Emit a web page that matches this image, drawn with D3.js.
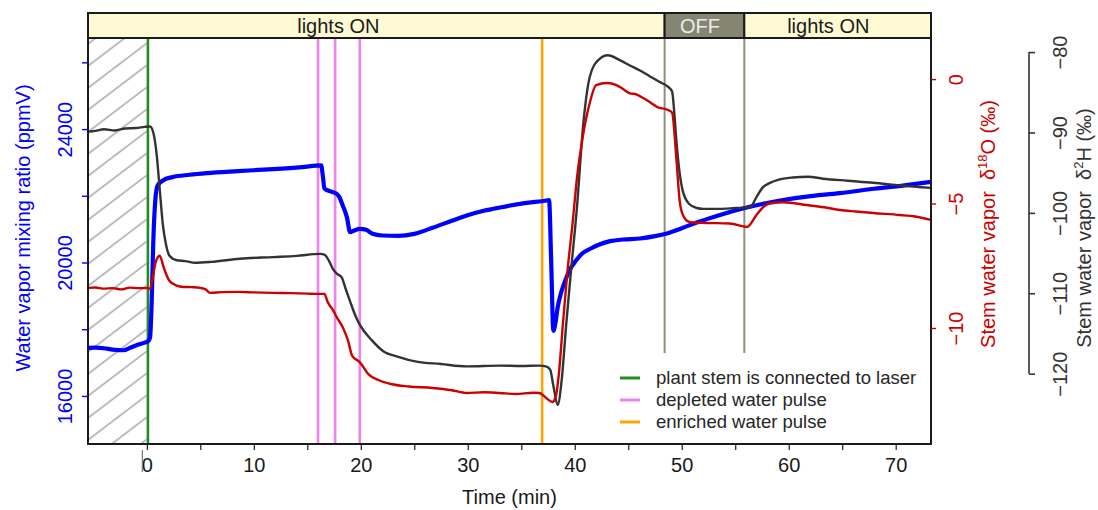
<!DOCTYPE html>
<html>
<head>
<meta charset="utf-8">
<script src="https://cdn.jsdelivr.net/npm/d3@7"></script>
<style>
  body { margin: 0; background: #fff; }
  text { font-family: "Liberation Sans", Arial, sans-serif; }
</style>
</head>
<body>
<svg id="chart" width="1098" height="510"></svg>
<script>
// ---- time axis ----
const timeDomain = [-5.5, 73.3];
const timeTicks = [0, 5, 10, 15, 20, 25, 30, 35, 40, 45, 50, 55, 60, 65, 70];
const timeLabels = [0, 10, 20, 30, 40, 50, 60, 70];

// ---- water vapor mixing ratio (ppmV) ----
const vaporTime = [-5.5,-4.8,-4.0,-3.2,-2.2,-1.5,-0.8,-0.2,0.15,0.3,0.45,0.6,0.8,1.0,1.5,2.4,4.0,5.6,8.5,11.8,14.5,16.3,16.45,16.6,16.9,17.7,18.0,18.3,18.7,19.0,19.4,19.9,20.5,21.1,22.0,23.5,25.0,26.7,28.5,29.9,31.5,33.0,35.3,37.4,37.6,37.8,38.0,38.2,38.4,38.7,39.1,39.5,40.1,40.7,41.5,42.3,43.3,44.5,46.1,47.5,48.6,50.0,51.4,53.5,55.7,58.2,61.5,64.8,68.0,71.0,73.3];
const vaporPpmv = [17440,17450,17430,17390,17370,17450,17540,17600,17650,17750,18800,20600,21900,22300,22460,22560,22630,22680,22740,22800,22860,22910,22600,22220,22160,22070,21960,21720,21360,20910,20960,21010,20980,20860,20810,20800,20860,21040,21250,21410,21550,21650,21780,21860,21870,20000,17950,18200,18650,19070,19450,19760,20050,20270,20420,20540,20640,20690,20720,20790,20870,21030,21200,21420,21620,21800,21970,22080,22210,22320,22420];
const vaporTicks = [16000, 18000, 20000, 22000, 24000, 26000];
const vaporLabels = [16000, 20000, 24000];

// ---- stem water vapor d18O (permil) ----
const oxyTime = [-5.5,-4.8,-4.0,-3.2,-2.4,-1.6,-0.8,0.0,0.3,0.55,0.8,1.2,1.6,2.1,2.8,3.4,4.2,5.0,5.5,5.9,7.0,8.7,10.0,11.8,13.5,15.0,16.2,16.6,16.9,17.4,17.8,18.3,18.8,19.2,19.9,20.7,21.7,22.8,24.5,26.7,28.5,29.9,31.5,33.0,34.5,36.1,36.7,37.3,37.9,38.2,38.5,38.9,39.3,39.8,40.2,40.7,41.4,42.0,43.0,43.9,44.5,45.1,45.8,46.4,47.1,47.7,48.7,49.1,49.5,49.8,50.1,50.7,51.0,52.3,54.5,56.1,57.0,57.6,58.2,59.5,61.7,63.3,64.8,66.3,67.9,70.4,71.8,73.3];
const oxyDelta = [-8.39,-8.37,-8.42,-8.4,-8.45,-8.38,-8.4,-8.4,-8.42,-8.0,-7.4,-7.1,-7.6,-8.1,-8.3,-8.35,-8.36,-8.39,-8.45,-8.59,-8.56,-8.55,-8.57,-8.59,-8.6,-8.62,-8.63,-8.63,-8.96,-9.28,-9.6,-9.96,-10.5,-11.12,-11.37,-11.85,-12.1,-12.25,-12.35,-12.41,-12.5,-12.61,-12.58,-12.61,-12.65,-12.6,-12.61,-12.8,-12.97,-12.8,-11.9,-9.8,-7.8,-5.78,-4.0,-2.45,-0.96,-0.24,-0.16,-0.24,-0.4,-0.56,-0.62,-0.76,-0.95,-1.12,-1.24,-1.35,-3.2,-4.86,-5.45,-5.74,-5.76,-5.78,-5.8,-5.94,-5.45,-5.15,-5.0,-4.95,-5.06,-5.15,-5.26,-5.32,-5.38,-5.46,-5.52,-5.66];
const oxyTicks = [0, -5, -10];

// ---- stem water vapor d2H (permil) ----
const hydTime = [-5.5,-4.8,-4.0,-3.0,-2.0,-1.0,-0.2,0.3,0.6,0.9,1.2,1.5,1.8,2.1,2.8,3.6,4.5,6.0,8.7,11.8,14.0,16.2,16.6,17.0,17.4,17.8,18.2,18.6,19.0,19.5,19.9,21.0,22.1,23.5,25.2,27.5,29.9,33.0,35.0,36.7,37.3,37.7,38.0,38.4,38.8,39.2,39.7,40.2,40.8,41.4,42.2,43.1,44.2,45.2,46.1,47.0,47.9,48.7,49.1,49.3,49.5,49.8,50.1,50.7,51.4,52.0,53.5,55.0,56.4,57.0,57.6,58.2,59.0,60.4,61.8,63.2,65.5,67.9,70.5,73.3];
const hydDelta = [-89.9,-89.8,-89.6,-89.75,-89.5,-89.45,-89.3,-89.25,-90.0,-92.5,-97.0,-101.5,-104.0,-105.3,-105.9,-106.0,-106.2,-106.1,-105.7,-105.5,-105.35,-105.1,-105.2,-105.9,-107.0,-107.6,-108.0,-109.5,-111.0,-112.8,-113.9,-115.8,-117.2,-117.9,-118.5,-118.8,-119.1,-119.0,-119.05,-119.0,-119.1,-119.5,-121.5,-123.9,-120.5,-113.9,-106.5,-99.4,-88.9,-83.1,-81.0,-80.4,-81.0,-81.7,-82.3,-83.0,-83.7,-84.3,-84.9,-87.5,-91.0,-95.0,-97.3,-98.9,-99.4,-99.5,-99.5,-99.4,-99.3,-98.0,-96.8,-96.3,-95.9,-95.6,-95.5,-95.75,-96.0,-96.25,-96.6,-96.9];
const hydTicks = [-80, -90, -100, -110, -120];

// ---- light phases ----
const phaseLabel = ["lights ON", "OFF", "lights ON"];
const phaseStart = [-5.5, 48.4, 55.85];
const phaseEnd = [48.4, 55.85, 73.3];
const phaseLabelTime = [17.9, 51.7, 63.7];
const phaseLit = [true, false, true];

// ---- events ----
const eventTime = [0.1, 16.0, 17.6, 19.9, 36.95];
const eventKind = ["stem", "depleted", "depleted", "depleted", "enriched"];
const eventKinds = ["stem", "depleted", "enriched"];
const eventNames = ["plant stem is connected to laser", "depleted water pulse", "enriched water pulse"];
const eventColors = ["#228B22", "#EE82EE", "#FFA500"];

// ---- layout ----
const svg = d3.select("#chart");
const plot = { left: 88, right: 931, top: 38, bottom: 444 };
const stripTop = 13;
const fontTick = 20, fontTitle = 20;
const blue = "#0000FF", red = "#CD0000", dark = "#333333";

const x = d3.scaleLinear().domain(timeDomain).range([plot.left, plot.right]);
const yVap = d3.scaleLinear().domain([14560, 26730]).range([plot.bottom, plot.top]);
const yOxy = d3.scaleLinear().domain([-14.66, 1.65]).range([plot.bottom, plot.top]);
const yHyd = d3.scaleLinear().domain([-128.75, -78.25]).range([plot.bottom, plot.top]);
const kindColor = d3.scaleOrdinal().domain(eventKinds).range(eventColors);

svg.append("defs").append("clipPath").attr("id", "plotClip")
  .append("rect")
  .attr("x", plot.left).attr("y", plot.top)
  .attr("width", plot.right - plot.left).attr("height", plot.bottom - plot.top);

svg.append("defs").append("clipPath").attr("id", "hatchClip")
  .append("rect")
  .attr("x", x(timeDomain[0])).attr("y", plot.top)
  .attr("width", x(0) - x(timeDomain[0])).attr("height", plot.bottom - plot.top);

// hatched period before the stem was connected
const hatch = svg.append("g").attr("clip-path", "url(#hatchClip)");
const slope = 0.76, gap = 22;
const hx0 = x(timeDomain[0]), hx1 = x(0);
for (let yy = plot.top - 60; yy < plot.bottom + 80; yy += gap) {
  hatch.append("line")
    .attr("x1", hx0).attr("y1", yy)
    .attr("x2", hx1).attr("y2", yy - slope * (hx1 - hx0))
    .attr("stroke", "#bababa").attr("stroke-width", 1.9);
}

// light phase boundaries inside the plot
const phaseBounds = phaseStart.slice(1);
svg.append("g").selectAll("line").data(phaseBounds).join("line")
  .attr("x1", d => x(d)).attr("x2", d => x(d))
  .attr("y1", plot.top).attr("y2", yOxy(-11))
  .attr("stroke", "#8f8f80").attr("stroke-width", 2);

// event markers
svg.append("g").selectAll("line").data(eventTime).join("line")
  .attr("x1", d => x(d)).attr("x2", d => x(d))
  .attr("y1", plot.top).attr("y2", plot.bottom)
  .attr("stroke", (d, i) => kindColor(eventKind[i])).attr("stroke-width", 2.6);

// series
const series = svg.append("g").attr("clip-path", "url(#plotClip)");
const mkLine = (ys) => d3.line().x(d => x(d[0])).y(d => ys(d[1])).curve(d3.curveMonotoneX);

series.append("path")
  .datum(d3.zip(vaporTime, vaporPpmv))
  .attr("d", mkLine(yVap))
  .attr("fill", "none").attr("stroke", blue).attr("stroke-width", 4.2)
  .attr("stroke-linejoin", "round");

series.append("path")
  .datum(d3.zip(hydTime, hydDelta))
  .attr("d", mkLine(yHyd))
  .attr("fill", "none").attr("stroke", dark).attr("stroke-width", 2.4)
  .attr("stroke-linejoin", "round");

series.append("path")
  .datum(d3.zip(oxyTime, oxyDelta))
  .attr("d", mkLine(yOxy))
  .attr("fill", "none").attr("stroke", red).attr("stroke-width", 2.4)
  .attr("stroke-linejoin", "round");

// plot frame
svg.append("rect")
  .attr("x", plot.left).attr("y", plot.top)
  .attr("width", plot.right - plot.left).attr("height", plot.bottom - plot.top)
  .attr("fill", "none").attr("stroke", "#1a1a1a").attr("stroke-width", 2);

// light phase strip
const strip = svg.append("g");
phaseLabel.forEach((lab, i) => {
  strip.append("rect")
    .attr("x", x(phaseStart[i])).attr("y", stripTop)
    .attr("width", x(phaseEnd[i]) - x(phaseStart[i])).attr("height", plot.top - stripTop)
    .attr("fill", phaseLit[i] ? "#FFFAD4" : "#858574")
    .attr("stroke", "#1a1a1a").attr("stroke-width", 2);
  strip.append("text")
    .attr("x", x(phaseLabelTime[i])).attr("y", 33)
    .attr("text-anchor", "middle").attr("font-size", 20)
    .attr("fill", phaseLit[i] ? "#1a1a1a" : "#ececec")
    .text(lab);
});

// bottom axis
const xAxis = svg.append("g")
  .attr("transform", `translate(0,${plot.bottom})`)
  .call(d3.axisBottom(x).tickValues(timeTicks).tickSize(6).tickSizeOuter(0)
    .tickFormat(d => timeLabels.includes(d) ? d : ""));
xAxis.select(".domain").remove();
xAxis.selectAll(".tick line").attr("stroke", "#1a1a1a").attr("stroke-width", 1.2);
xAxis.selectAll(".tick text").attr("y", 28).attr("dy", 0)
  .attr("font-size", fontTick).attr("fill", "#1a1a1a").style("font-family", "Liberation Sans, Arial, sans-serif");
svg.append("line")
  .attr("x1", x(0) - 4.5).attr("x2", x(0) - 4.5)
  .attr("y1", plot.bottom + 6).attr("y2", plot.bottom + 28)
  .attr("stroke", "#777").attr("stroke-width", 1.2);
svg.append("text")
  .attr("x", (plot.left + plot.right) / 2).attr("y", 504)
  .attr("text-anchor", "middle").attr("font-size", fontTitle).attr("fill", "#1a1a1a")
  .text("Time (min)");

// left axis: water vapor
const yAxisL = svg.append("g")
  .attr("transform", `translate(${plot.left},0)`)
  .call(d3.axisLeft(yVap).tickValues(vaporTicks).tickSize(6).tickSizeOuter(0)
    .tickFormat(d => vaporLabels.includes(d) ? d : ""));
yAxisL.select(".domain").remove();
yAxisL.selectAll(".tick line").attr("stroke", blue).attr("stroke-width", 1.4);
yAxisL.selectAll(".tick text")
  .attr("x", 0).attr("dy", 0)
  .attr("transform", "translate(-16,0) rotate(-90)")
  .attr("text-anchor", "middle")
  .attr("font-size", fontTick).attr("fill", blue).style("font-family", "Liberation Sans, Arial, sans-serif");
svg.append("text")
  .attr("transform", "translate(29.5,228) rotate(-90)")
  .attr("text-anchor", "middle").attr("font-size", fontTitle).attr("fill", blue)
  .text("Water vapor mixing ratio (ppmV)");

// first right axis: d18O
const yAxisO = svg.append("g")
  .attr("transform", `translate(${plot.right},0)`)
  .call(d3.axisRight(yOxy).tickValues(oxyTicks).tickSize(5).tickSizeOuter(0));
yAxisO.select(".domain").remove();
yAxisO.selectAll(".tick line").attr("stroke", red).attr("stroke-width", 1.4);
yAxisO.selectAll(".tick text")
  .attr("x", 0).attr("dy", 0)
  .attr("transform", "translate(32,0) rotate(-90)")
  .attr("text-anchor", "middle")
  .attr("font-size", fontTick).attr("fill", red).style("font-family", "Liberation Sans, Arial, sans-serif");
const tO = svg.append("text")
  .attr("transform", "translate(995,224) rotate(-90)")
  .attr("text-anchor", "middle").attr("font-size", fontTitle).attr("fill", red)
  .style("white-space", "pre");
tO.append("tspan").text("Stem water vapor  \u03B4");
tO.append("tspan").attr("dy", -8).attr("font-size", 13).text("18");
tO.append("tspan").attr("dy", 8).text("O (\u2030)");

// second right axis: d2H
const hydAxisX = 1029;
const yAxisH = svg.append("g")
  .attr("transform", `translate(${hydAxisX},0)`)
  .call(d3.axisRight(yHyd).tickValues(hydTicks).tickSize(6).tickSizeOuter(0));
yAxisH.select(".domain").remove();
yAxisH.append("line")
  .attr("x1", 0).attr("x2", 0)
  .attr("y1", yHyd(d3.max(hydTicks))).attr("y2", yHyd(d3.min(hydTicks)))
  .attr("stroke", dark).attr("stroke-width", 1.6);
yAxisH.selectAll(".tick line").attr("stroke", dark).attr("stroke-width", 1.6);
yAxisH.selectAll(".tick text")
  .attr("x", 0).attr("dy", 0)
  .attr("transform", "translate(38,0) rotate(-90)")
  .attr("text-anchor", "middle")
  .attr("font-size", fontTick).attr("fill", dark).style("font-family", "Liberation Sans, Arial, sans-serif");
const tH = svg.append("text")
  .attr("transform", "translate(1091,228) rotate(-90)")
  .attr("text-anchor", "middle").attr("font-size", fontTitle).attr("fill", dark)
  .style("white-space", "pre");
tH.append("tspan").text("Stem water vapor  \u03B4");
tH.append("tspan").attr("dy", -8).attr("font-size", 13).text("2");
tH.append("tspan").attr("dy", 8).text("H (\u2030)");

// legend
const legend = svg.append("g").attr("transform", "translate(620,378)");
eventKinds.forEach((k, i) => {
  const row = legend.append("g").attr("transform", `translate(0,${i * 22})`);
  row.append("line").attr("x1", 0).attr("x2", 20).attr("y1", 0).attr("y2", 0)
    .attr("stroke", kindColor(k)).attr("stroke-width", 3);
  row.append("text").attr("x", 36).attr("y", 6)
    .attr("font-size", 18.5).attr("fill", "#262626").text(eventNames[i]);
});
</script>
</body>
</html>
